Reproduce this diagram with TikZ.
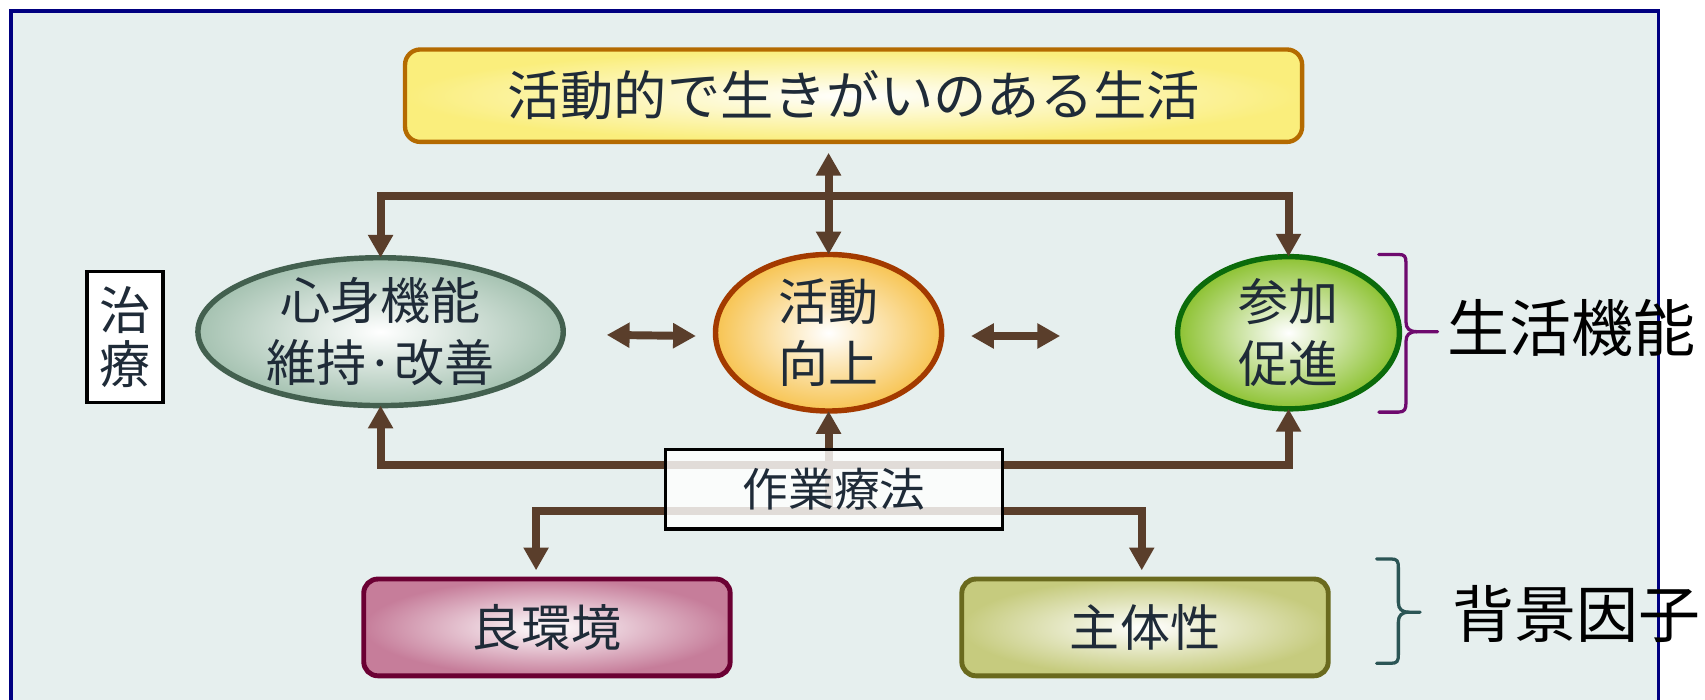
\documentclass[tikz,border=0pt]{standalone}
\usepackage{fontspec}
\setmainfont{Noto Sans CJK JP}
\usetikzlibrary{shapes.geometric,arrows.meta}
\definecolor{framec}{HTML}{000080}
\definecolor{bgc}{HTML}{E6EFEE}
\definecolor{txtc}{HTML}{1F2B38}
\definecolor{brownc}{HTML}{5A3E2B}
\definecolor{topb}{HTML}{B46A00}
\definecolor{topf}{HTML}{FAEE7C}
\definecolor{eAb}{HTML}{43604F}
\definecolor{eAf}{HTML}{A5C2B1}
\definecolor{eBb}{HTML}{A33A00}
\definecolor{eBf}{HTML}{F7C452}
\definecolor{eCb}{HTML}{0B6B0B}
\definecolor{eCf}{HTML}{8DC232}
\definecolor{ryb}{HTML}{6B0033}
\definecolor{ryf}{HTML}{C67D9A}
\definecolor{shb}{HTML}{6A6A1E}
\definecolor{shf}{HTML}{C6CB7E}
\definecolor{braceA}{HTML}{6E0A6E}
\definecolor{braceB}{HTML}{2B5555}
\begin{document}
\begin{tikzpicture}[x=1pt,y=-1pt,
  >={Triangle[width=22pt,length=21pt]},
  con/.style={draw=brownc,line width=7.3pt},
  lbl/.style={text=txtc,font=\fontsize{46}{57}\selectfont,align=center,inner sep=0pt},
  ell/.style={shape=ellipse,line width=5pt,inner sep=0pt,outer sep=0pt,inner color=white},
  rbox/.style={shape=rectangle,rounded corners=13pt,line width=4.5pt,inner sep=0pt,outer sep=0pt,inner color=white,
    minimum width=337pt,minimum height=89pt,text=txtc,font=\fontsize{46}{57}\selectfont},
  side/.style={text=black,font=\fontsize{57}{64}\selectfont,inner sep=0pt},
  bracepath/.style={line width=3pt,line cap=round}]
\useasboundingbox (0,0) rectangle (1568,643);
\begin{scope}
\clip (0,0) rectangle (1568,643);
\fill[white] (0,0) rectangle (1568,643);
\draw[draw=framec,fill=bgc,line width=3pt] (10,10) rectangle (1525,700);
\end{scope}
% top box
\node[shape=rectangle,rounded corners=14pt,line width=4pt,draw=topb,inner color=white,outer color=topf,
  minimum width=825pt,minimum height=85pt,text=txtc,font=\fontsize{49}{57}\selectfont,outer sep=0pt] (top) at (785,88) {活動的で生きがいのある生活};
% ellipses
\node[ell,draw=eAb,outer color=eAf,minimum width=336pt,minimum height=136pt] (e1) at (350,305) {};
\node[lbl] (t1) at (e1) {心身機能\\維持·改善};
\node[ell,draw=eBb,outer color=eBf,minimum width=208pt,minimum height=144pt] (e2) at (762,306) {};
\node[lbl] (t2) at (e2) {活動\\向上};
\node[ell,draw=eCb,outer color=eCf,minimum width=204pt,minimum height=140pt] (e3) at (1185,306) {};
\node[lbl] (t3) at (e3) {参加\\促進};
% chiryo
\node[draw=black,fill=white,line width=3pt,minimum width=70pt,minimum height=120pt,inner sep=0pt,
  text=txtc,font=\fontsize{47}{50}\selectfont,align=center] (cr) at (115,310) {治\\療};
% upper connectors
\coordinate (hl) at (765,180);
\draw[con,<->] (e1.north) -- (e1.north |- hl) -| (e3.north);
\path (top.south -| e2.north) ++(0,10) coordinate (tb);
\draw[con,<->] (tb) -- (e2.north);
\path (e1.east) ++(40,3) coordinate (a1);
\path (e2.west) ++(-18,3) coordinate (a2);
\draw[con,<->] (a1) -- (a2);
\path (e2.east) ++(27,3) coordinate (b1);
\path (e3.west) ++(-108,3) coordinate (b2);
\draw[con,<->] (b1) -- (b2);
% bottom boxes
\node[rbox,draw=ryb,outer color=ryf] (ry) at (503,577) {良環境};
\node[rbox,draw=shb,outer color=shf] (sh) at (1053,577) {主体性};
% lower connectors
\coordinate (hA) at (768,428);
\coordinate (hB) at (768,470);
\draw[con,<->] (e1.south) -- (e1.south |- hA) -| (e3.south);
\draw[con,->] (hB -| e2.south) -- (e2.south);
\path (ry.north) ++(-10,-8) coordinate (ryt);
\path (sh.north) ++(-3,-8) coordinate (sht);
\draw[con,<->] (ryt) -- (ryt |- hB) -| (sht);
% sagyo ryoho box
\node[draw=black,fill=white,fill opacity=0.82,text opacity=1,draw opacity=1,line width=3pt,minimum width=310pt,minimum height=73pt,
  inner sep=0pt,text=txtc,font=\fontsize{42}{50}\selectfont] (ot) at (767,450) {作業療法};
% braces
\draw[bracepath,draw=braceA] (1268,234) -- (1286,234) .. controls (1292,234) and (1293,236) .. (1293,242) -- (1293,296)
  .. controls (1293,302) and (1296,305) .. (1303,305) -- (1322,305);
\draw[bracepath,draw=braceA] (1268,379) -- (1286,379) .. controls (1292,379) and (1293,376) .. (1293,370) -- (1293,314)
  .. controls (1293,308) and (1296,305) .. (1303,305);
\draw[bracepath,draw=braceB] (1266,514) -- (1279,514) .. controls (1285,514) and (1286,516) .. (1286,522) -- (1286,554)
  .. controls (1286,560) and (1289,563) .. (1296,563) -- (1306,563);
\draw[bracepath,draw=braceB] (1266,610) -- (1279,610) .. controls (1285,610) and (1286,608) .. (1286,602) -- (1286,572)
  .. controls (1286,566) and (1289,563) .. (1296,563);
\node[side] (slk) at (1445,302) {生活機能};
\node[side] (hk) at (1450,565) {背景因子};
\end{tikzpicture}
\end{document}
